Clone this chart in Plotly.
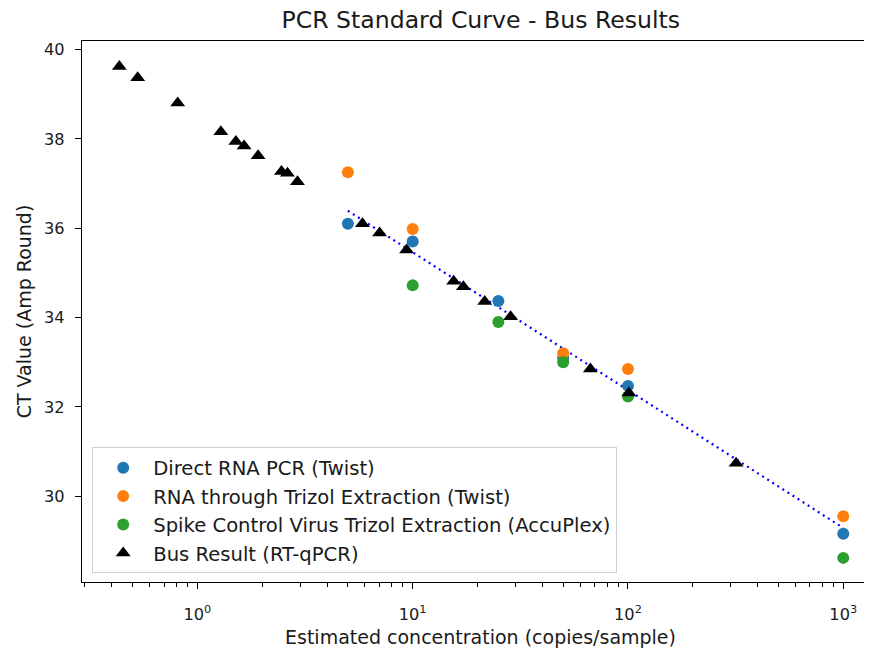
import plotly.graph_objects as go

# standard curve points (copies/sample, CT)
direct_x = [5, 10, 25, 50, 100, 1000]
direct_ct = [36.10, 35.70, 34.37, 33.10, 32.47, 29.16]

trizol_x = [5, 10, 50, 100, 1000]
trizol_ct = [37.25, 35.98, 33.20, 32.85, 29.55]

spike_x = [10, 25, 50, 100, 1000]
spike_ct = [34.72, 33.90, 33.00, 32.23, 28.62]

# bus samples placed on the curve
bus_x = [0.434, 0.528, 0.81, 1.285, 1.509, 1.648, 1.914, 2.458, 2.62, 2.916,
         5.84, 7.02, 9.37, 15.5, 17.2, 21.6, 28.5, 66.9, 101.0, 318.0]
bus_ct = [39.62, 39.37, 38.80, 38.16, 37.94, 37.84, 37.62, 37.27, 37.23, 37.04,
          36.10, 35.89, 35.51, 34.81, 34.69, 34.36, 34.02, 32.85, 32.31, 30.74]

fit_x = [5, 1000]
fit_ct = [36.39, 29.29]

x_tickvals = [1, 10, 100, 1000]
x_ticktext = ["10<sup>0</sup>", "10<sup>1</sup>", "10<sup>2</sup>", "10<sup>3</sup>"]

FONT = "DejaVu Sans"
TXT = "#1a1a1a"

fig = go.Figure()
fig.add_trace(go.Scatter(
    x=fit_x, y=fit_ct, mode="lines", showlegend=False,
    line=dict(color="#0000ff", width=2.2, dash="2px,4px"),
))
series = [
    ("Direct RNA PCR (Twist)", direct_x, direct_ct, "#1f77b4"),
    ("RNA through Trizol Extraction (Twist)", trizol_x, trizol_ct, "#ff7f0e"),
    ("Spike Control Virus Trizol Extraction (AccuPlex)", spike_x, spike_ct, "#2ca02c"),
]
for i, (name, xs, ys, col) in enumerate(series):
    fig.add_trace(go.Scatter(
        x=xs, y=ys, mode="markers", name=name, legendgroup=f"g{i}",
        marker=dict(color=col, size=12, symbol="circle"),
    ))
fig.add_trace(go.Scatter(
    x=bus_x, y=bus_ct, mode="markers", name="Bus Result (RT-qPCR)", legendgroup="g3",
    marker=dict(color="black", size=13, symbol="triangle-up"),
))

# page body adds an 8px offset, so the layout is shifted up/left by 8px
fig.update_layout(
    width=872,
    height=654,
    plot_bgcolor="white",
    paper_bgcolor="white",
    font=dict(family=FONT, color=TXT, size=16.2),
    margin=dict(l=73.5, r=1, t=32.5, b=80, autoexpand=False),
    title=dict(
        text="PCR Standard Curve - Bus Results",
        font=dict(size=23.6, color=TXT),
        xref="container", x=0.5422, xanchor="center",
        yref="container", y=1 - 12 / 654, yanchor="middle",
    ),
    legend=dict(
        x=0.0128, y=0.2488, xanchor="left", yanchor="top",
        bgcolor="rgba(255,255,255,0.8)", bordercolor="#d0d0d0", borderwidth=1,
        font=dict(size=19.6), itemwidth=50, tracegroupgap=0,
    ),
)
fig.update_xaxes(
    type="log", range=[-0.536, 3.166], automargin=False,
    tickvals=x_tickvals, ticktext=x_ticktext,
    showgrid=False, zeroline=False,
    showline=True, linecolor="black", linewidth=1.2, mirror=True,
    ticks="outside", ticklen=6, tickwidth=1.2, tickcolor="black", ticklabelstandoff=11,
    minor=dict(ticks="outside", ticklen=3.5, tickwidth=1, tickcolor="black", dtick="D1", showgrid=False),
    title=dict(text="Estimated concentration (copies/sample)", standoff=8),
)
fig.update_yaxes(
    range=[28.08, 40.19], automargin=False,
    tickvals=[30, 32, 34, 36, 38, 40],
    showgrid=False, zeroline=False,
    showline=True, linecolor="black", linewidth=1.2,
    ticks="outside", ticklen=6, tickwidth=1.2, tickcolor="black", ticklabelstandoff=7,
    title=dict(text="CT Value (Amp Round)", standoff=7),
)

fig.write_html("out.html")
